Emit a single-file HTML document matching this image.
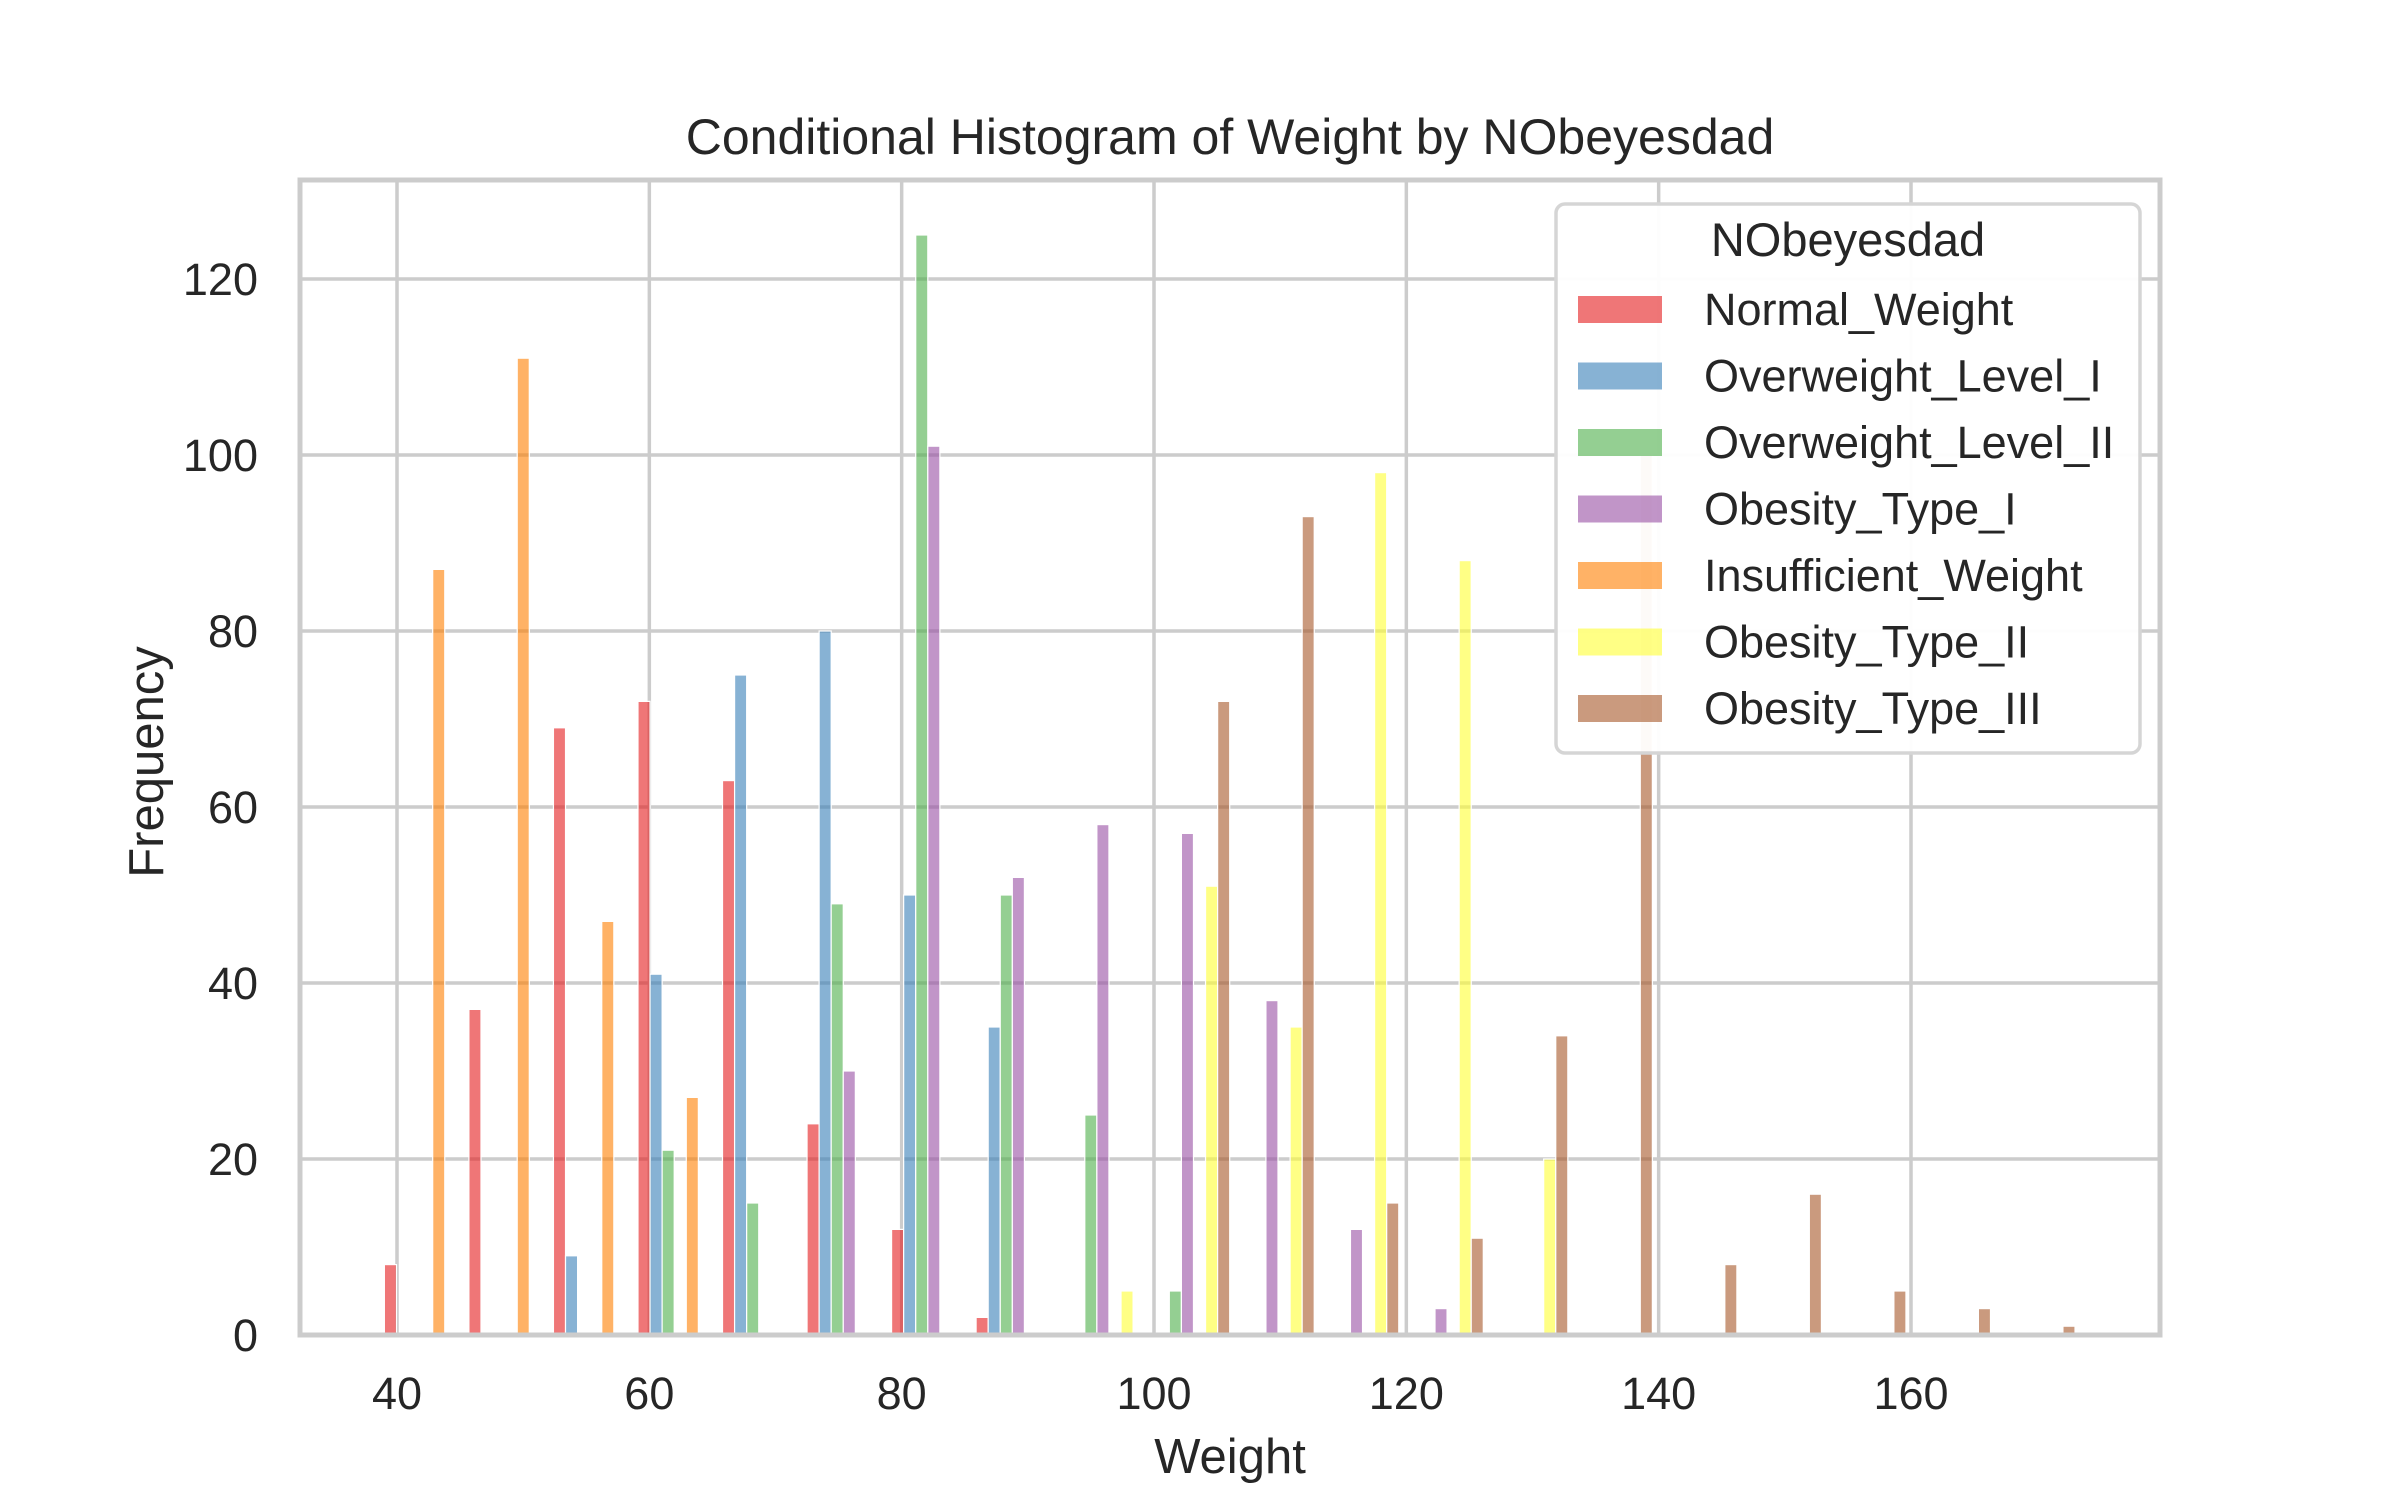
<!DOCTYPE html>
<html><head><meta charset="utf-8"><style>
html,body{margin:0;padding:0;background:#fff;}
svg text{font-family:"Liberation Sans",sans-serif;fill:#262626;}
</style></head><body>
<svg id="chart" width="2400" height="1500" viewBox="0 0 2400 1500" xmlns="http://www.w3.org/2000/svg">
<rect x="0" y="0" width="2400" height="1500" fill="#fff"/>
<g id="grid"></g>
<g id="bars"></g>
<g id="spines"></g>
<g id="ticks"></g>
<text x="1230" y="154" font-size="50" text-anchor="middle">Conditional Histogram of Weight by NObeyesdad</text>
<text x="1230" y="1473" font-size="49" text-anchor="middle">Weight</text>
<text x="0" y="0" font-size="49" text-anchor="middle" transform="translate(163,762) rotate(-90)">Frequency</text>
<g id="legend"></g>
</svg>
<script>
const categories = ["Normal_Weight","Overweight_Level_I","Overweight_Level_II","Obesity_Type_I","Insufficient_Weight","Obesity_Type_II","Obesity_Type_III"];
const colors = ["#E41A1C","#377EB8","#4DAF4A","#984EA3","#FF7F00","#FFFF33","#A65628"];
const binStart = 39;
const binEnd = 173;
const normalWeight = [8,37,69,72,63,24,12,2,0,0,0,0,0,0,0,0,0,0,0,0];
const overweightI = [0,0,9,41,75,80,50,35,0,0,0,0,0,0,0,0,0,0,0,0];
const overweightII = [0,0,0,21,15,49,125,50,25,5,0,0,0,0,0,0,0,0,0,0];
const obesityI = [0,0,0,0,0,30,101,52,58,57,38,12,3,0,0,0,0,0,0,0];
const insufficient = [87,111,47,27,0,0,0,0,0,0,0,0,0,0,0,0,0,0,0,0];
const obesityII = [0,0,0,0,0,0,0,0,5,51,35,98,88,20,0,0,0,0,0,0];
const obesityIII = [0,0,0,0,0,0,0,0,0,72,93,15,11,34,100,8,16,5,3,1];
const xTicks = [40,60,80,100,120,140,160];
const yTicks = [0,20,40,60,80,100,120];

const series = [normalWeight,overweightI,overweightII,obesityI,insufficient,obesityII,obesityIII];
const NS = "http://www.w3.org/2000/svg";
const L=300,R=2160,T=180,B=1335;
function xs(v){return 397+(v-40)*(1911-397)/120;}
function ys(v){return 1335-v*(1335-279)/120;}
function mk(tag,attrs,parent){const e=document.createElementNS(NS,tag);for(const k in attrs)e.setAttribute(k,attrs[k]);parent.appendChild(e);return e;}
const grid=document.getElementById('grid');
xTicks.forEach(t=>{
  const l=mk('line',{x1:xs(t),x2:xs(t),y1:T,y2:B,stroke:'#cccccc','stroke-width':3.5},grid);
  
  
});
yTicks.forEach(t=>{
  const l=mk('line',{x1:L,x2:R,y1:ys(t),y2:ys(t),stroke:'#cccccc','stroke-width':3.5},grid);
  
  
});
const nb=normalWeight.length;
const bw=(binEnd-binStart)/nb;
const sw=bw/categories.length;
const bars=document.getElementById('bars');
series.forEach((arr,si)=>{
  arr.forEach((v,bi)=>{
    if(v<=0)return;
    const x0=xs(binStart+bi*bw+si*sw), x1=xs(binStart+bi*bw+(si+1)*sw);
    const r=mk('rect',{x:x0,y:ys(v),width:x1-x0,height:ys(0)-ys(v),fill:colors[si],'fill-opacity':0.6,stroke:'#fff','stroke-width':1.2},bars);
    
    
  });
});
const sp=document.getElementById('spines');
const fr=mk('rect',{x:L,y:T,width:R-L,height:B-T,fill:'none',stroke:'#cccccc','stroke-width':5},sp);


const tk=document.getElementById('ticks');
xTicks.forEach(t=>{
  const e=mk('text',{x:xs(t),y:1409,'font-size':45,'text-anchor':'middle'},tk);
  e.textContent=t;
  
  
});
yTicks.forEach(t=>{
  const e=mk('text',{x:258,y:ys(t)+16,'font-size':45,'text-anchor':'end'},tk);
  e.textContent=t;
  
  
});
const lg=document.getElementById('legend');


const box=mk('rect',{x:1556,y:204,width:584,height:549,rx:9,fill:'#fff','fill-opacity':0.95,stroke:'#d5d5d5','stroke-width':3.5},lg);


const lt=mk('text',{x:1848,y:256,'font-size':47,'text-anchor':'middle'},lg);
lt.textContent='NObeyesdad';


categories.forEach((c,i)=>{
  const cy=309+66.5*i;
  const p=mk('rect',{x:1578,y:cy-13,width:84,height:27,fill:colors[i],'fill-opacity':0.6},lg);
  
  
  const t=mk('text',{x:1704,y:cy+16,'font-size':45},lg);
  t.textContent=c;
  
  
});
</script>
</body></html>
